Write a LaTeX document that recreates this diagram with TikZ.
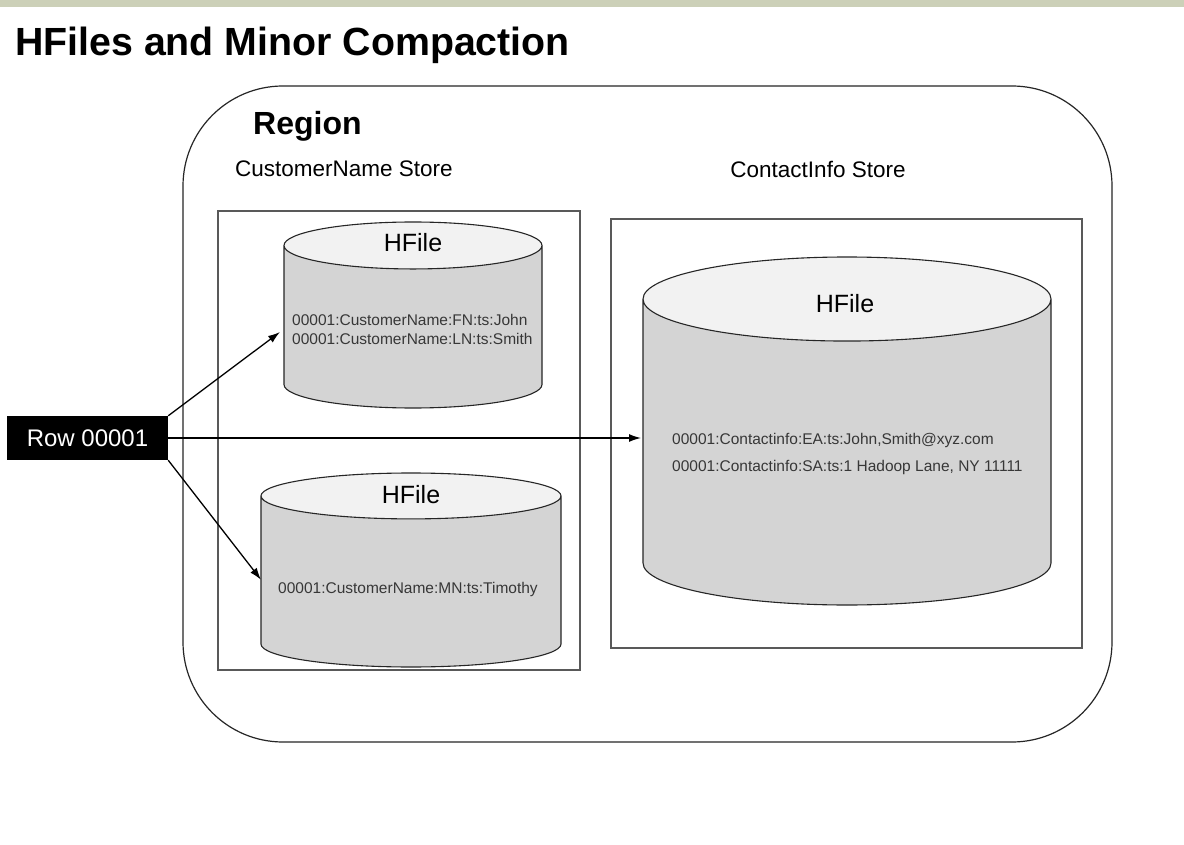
\documentclass[tikz,border=0pt]{standalone}
\usepackage{fontspec}
\setmainfont{Liberation Sans}
\usetikzlibrary{shapes, arrows.meta, positioning}
\definecolor{hbband}{RGB}{204,208,184}
\definecolor{hbbody}{RGB}{212,212,212}
\definecolor{hbtop}{RGB}{242,242,242}
\definecolor{hbtext}{RGB}{55,55,55}

\begin{document}
\begin{tikzpicture}[
      x=1pt, y=-1pt,
      region/.style={draw=black!85, line width=1.2pt, rounded corners=100pt, inner sep=0pt},
      store/.style={draw=black!65, line width=2pt, inner sep=0pt},
      hfile/.style={cylinder, shape border rotate=90, draw=black!85, line width=1.1pt,
        cylinder uses custom fill, cylinder body fill=hbbody, cylinder end fill=hbtop,
        inner sep=0pt, outer sep=0pt, anchor=shape center},
      hlabel/.style={font=\fontsize{25}{30}\selectfont},
      entry/.style={font=\fontsize{15.5}{19}\selectfont, text=hbtext, align=left,
        inner sep=0pt, anchor=west},
      arrow/.style={-{Latex[length=12pt, width=8pt]}, line width=1.3pt}
    ]
      \useasboundingbox (0,0) rectangle (1184,845);
      \fill[white] (0,0) rectangle (1184,845);
      \fill[hbband] (0,0) rectangle (1184,7);

      % Title
      \node[anchor=base west, inner sep=0pt, font=\fontsize{39.3}{44}\bfseries] (title) at (15,56)
        {HFiles and Minor Compaction};

      % Region and stores
      \node[region, minimum width=929pt, minimum height=656pt] (region) at (647.5,414) {};
      \node[anchor=base west, inner sep=0pt, font=\fontsize{32}{36}\bfseries] (regname) at (253,135) {Region};
      \node[anchor=base west, inner sep=0pt, font=\fontsize{22.5}{26}\selectfont] (cnname) at (235,177)
        {CustomerName Store};
      \node[anchor=base, inner sep=0pt, font=\fontsize{22.5}{26}\selectfont] (ciname) at (818,178)
        {ContactInfo Store};
      \node[store, minimum width=362pt, minimum height=459pt] (cnstore) at (399,440.5) {};
      \node[store, minimum width=471pt, minimum height=429pt] (cistore) at (846.5,433.5) {};

      % HFiles
      \node[hfile, text width=258pt, minimum height=186pt, shape aspect=0.182] (fnfile) at (413,315) {};
      \node[hfile, text width=300pt, minimum height=194pt, shape aspect=0.153] (mnfile) at (411,570) {};
      \node[hfile, text width=408pt, minimum height=348pt, shape aspect=0.206] (cifile) at (847,431) {};

      \node[hlabel] (fnhead) at (413,243) {HFile};
      \node[hlabel] (mnhead) at (411,495) {HFile};
      \node[hlabel] (cihead) at (845,304) {HFile};

      \node[entry] (fnrows) at (292,329)
        {00001:CustomerName:FN:ts:John\\00001:CustomerName:LN:ts:Smith};
      \node[entry] (mnrows) at (278,589) {00001:CustomerName:MN:ts:Timothy};
      \node[entry, font=\fontsize{15.5}{27}\selectfont] (cirows) at (672,454)
        {00001:Contactinfo:EA:ts:John,Smith@xyz.com\\00001:Contactinfo:SA:ts:1 Hadoop Lane, NY 11111};

      % Row key
      \node[fill=black, text=white, minimum width=161pt, minimum height=44pt, inner sep=0pt,
        font=\fontsize{24}{28}\selectfont] (row) at (87.5,438) {Row 00001};

      % Connections
      \draw[arrow, shorten >=5pt] (row.north east) -- ([yshift=-2pt]fnfile.west);
      \draw[arrow, shorten >=2pt] (row.east) -- (row.east -| cifile.west);
      \draw[arrow] (row.south east) -- ([yshift=2pt]mnfile.west);
    \end{tikzpicture}
\end{document}
